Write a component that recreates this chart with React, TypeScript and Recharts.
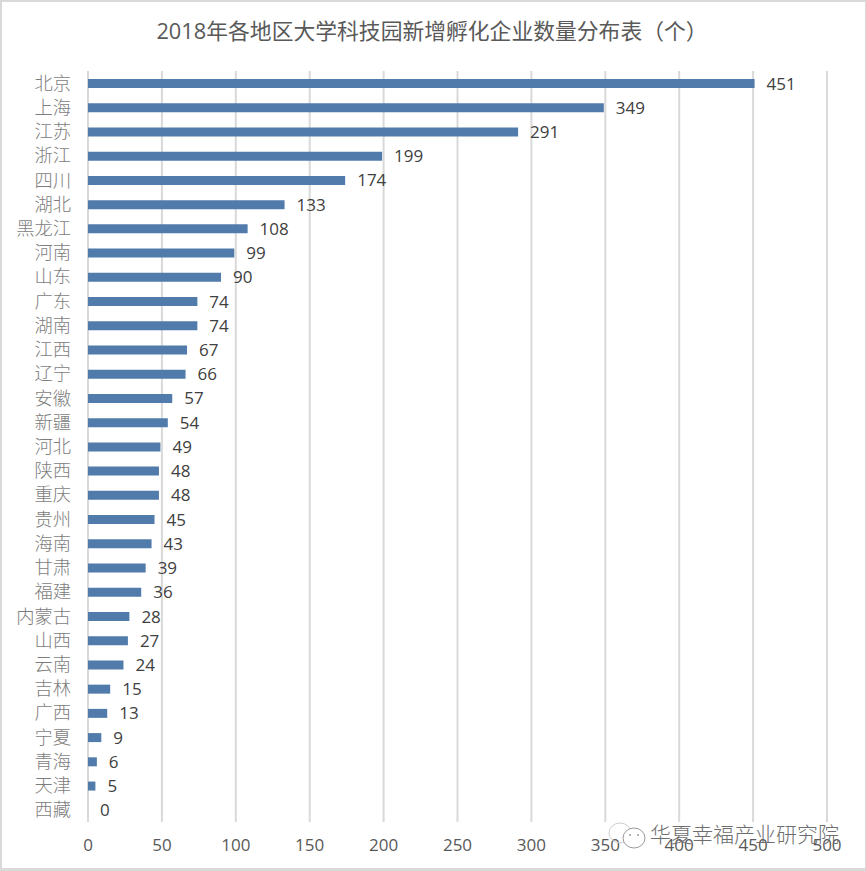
import { BarChart, Bar, XAxis, YAxis, CartesianGrid, LabelList } from 'recharts'

const REGIONS = ['北京', '上海', '江苏', '浙江', '四川', '湖北', '黑龙江', '河南', '山东', '广东', '湖南', '江西', '辽宁', '安徽', '新疆', '河北', '陕西', '重庆', '贵州', '海南', '甘肃', '福建', '内蒙古', '山西', '云南', '吉林', '广西', '宁夏', '青海', '天津', '西藏']
const COUNTS = [451, 349, 291, 199, 174, 133, 108, 99, 90, 74, 74, 67, 66, 57, 54, 49, 48, 48, 45, 43, 39, 36, 28, 27, 24, 15, 13, 9, 6, 5, 0]
const X_TICKS = [0, 50, 100, 150, 200, 250, 300, 350, 400, 450, 500]
const TITLE = '2018年各地区大学科技园新增孵化企业数量分布表（个）'
const WATERMARK = '华夏幸福产业研究院'

const chartData = REGIONS.map((name, i) => ({ name, value: COUNTS[i] }))

const LATIN = '"Open Sans", "Noto Sans CJK SC", sans-serif'
const CJK = '"Noto Sans CJK SC", sans-serif'

export default function App() {
  return (
    <div style={{ position: 'absolute', left: 0, top: 0, width: 866, height: 871, background: '#fff', overflow: 'hidden' }}>
      <BarChart
        width={866}
        height={871}
        data={chartData}
        layout="vertical"
        margin={{ top: 71, right: 39, left: 0, bottom: 0 }}
      >
        <CartesianGrid horizontal={false} stroke="#d9d9d9" strokeWidth={2} />
        <XAxis
          type="number"
          domain={[0, 500]}
          ticks={X_TICKS}
          axisLine={false}
          tickLine={false}
          height={49}
          tickMargin={11}
          tick={{ fill: '#595959', fontSize: 17, fontFamily: LATIN }}
        />
        <YAxis
          type="category"
          dataKey="name"
          width={88}
          interval={0}
          axisLine={false}
          tickLine={false}
          tickMargin={11}
          tick={{ fill: '#7d7d7d', fontSize: 18.3, fontWeight: 300, fontFamily: CJK }}
        />
        {/* minPointSize keeps the zero bar alive so its label still draws */}
        <Bar dataKey="value" fill="#517bab" barSize={9} minPointSize={0.01} isAnimationActive={false}>
          <LabelList dataKey="value" position="right" offset={12} fill="#404040" fontSize={17} fontFamily={LATIN} />
        </Bar>
      </BarChart>

      {/* title, frame and watermark sit on top of the chart */}
      <div style={{ position: 'absolute', left: 0, top: 17, width: 864, textAlign: 'center', fontSize: 21.8, lineHeight: '28px', color: '#595959', fontFamily: LATIN, whiteSpace: 'nowrap' }}>
        {TITLE}
      </div>
      <div style={{ position: 'absolute', left: 0, top: 0, width: 863, height: 866, borderStyle: 'solid', borderColor: '#d9d9d9', borderWidth: '2px 1px 3px 2px', pointerEvents: 'none' }} />
      <svg width={50} height={36} style={{ position: 'absolute', left: 604, top: 818 }}>
        <ellipse cx={16} cy={15} rx={11} ry={10} fill="none" stroke="#cfcfcf" strokeWidth={1} />
        <ellipse cx={30} cy={20} rx={11} ry={10} fill="#fff" stroke="#9a9a9a" strokeWidth={1} />
        <circle cx={26} cy={17} r={1} fill="#9a9a9a" />
        <circle cx={34} cy={17} r={1} fill="#9a9a9a" />
      </svg>
      <div style={{ position: 'absolute', left: 650, top: 819, fontSize: 21, lineHeight: '28px', color: '#6e6e6e', fontWeight: 300, fontFamily: CJK, whiteSpace: 'nowrap' }}>
        {WATERMARK}
      </div>
    </div>
  )
}
